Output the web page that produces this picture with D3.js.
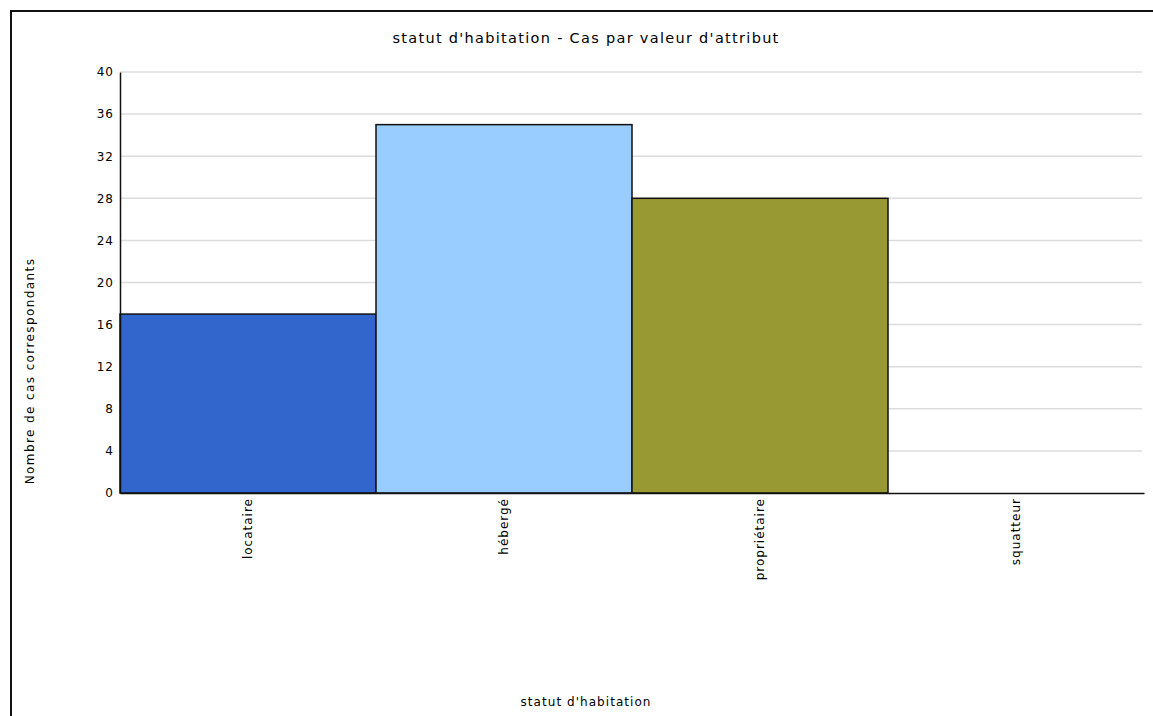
<!DOCTYPE html>
<html><head><meta charset="utf-8">
<script src="https://cdn.jsdelivr.net/npm/d3@7"></script>
<style>body{margin:0;background:#fff}svg{display:block}text{font-family:"DejaVu Sans",Verdana,sans-serif;fill:#000}</style>
</head><body><svg id="c" width="1153" height="716"></svg>
<script>
const categories = ["locataire", "hébergé", "propriétaire", "squatteur"];
const values = [17, 35, 28, 0];
const colors = ["#3366CC", "#99CCFF", "#999933", "#CC9933"];
const yTicks = [0, 4, 8, 12, 16, 20, 24, 28, 32, 36, 40];
const title = "statut d'habitation - Cas par valeur d'attribut";
const xTitle = "statut d'habitation";
const yTitle = "Nombre de cas correspondants";

const svg = d3.select("#c");
const L = 120, R = 1144, T = 72, B = 493;
const x = d3.scaleBand().domain(categories).range([L, R]).padding(0);
const y = d3.scaleLinear().domain([0, 40]).range([B, T]);
const FF = "'DejaVu Sans', Verdana, sans-serif";

// frame
svg.append("path").attr("d", `M11,716 V11 H1153`).attr("fill", "none").attr("stroke", "#111").attr("stroke-width", 2);

// grid
svg.append("g").selectAll("line").data(yTicks.filter(d => d > 0)).join("line")
  .attr("x1", L).attr("x2", R - 2).attr("y1", d => y(d)).attr("y2", d => y(d))
  .attr("stroke", "#dcdcdc").attr("stroke-width", 1.5);

// bars
svg.append("g").selectAll("rect").data(categories).join("rect")
  .attr("x", d => x(d)).attr("width", x.bandwidth())
  .attr("y", (d, i) => y(values[i])).attr("height", (d, i) => B - y(values[i]))
  .attr("fill", (d, i) => colors[i]).attr("stroke", "#111").attr("stroke-width", 1.5)
  .style("display", (d, i) => values[i] > 0 ? null : "none");

// y axis
const ya = svg.append("g").attr("transform", `translate(${L},0)`)
  .call(d3.axisLeft(y).tickValues(yTicks).tickSize(0).tickPadding(6));
ya.select(".domain").attr("stroke", "#111").attr("stroke-width", 1.5);
ya.selectAll("text").attr("font-size", 12).attr("fill", "#000").style("font-family", FF)
  .style("letter-spacing", "1px");

// x axis
const xa = svg.append("g").attr("transform", `translate(0,${B})`)
  .call(d3.axisBottom(x).tickSize(0).tickPadding(0));
xa.select(".domain").attr("stroke", "#111").attr("stroke-width", 1.5);
xa.selectAll("text").attr("font-size", 12).attr("fill", "#000")
  .style("font-family", FF).style("letter-spacing", "1px")
  .attr("transform", "rotate(-90)").attr("text-anchor", "end")
  .attr("x", -5).attr("y", 0).attr("dy", "0.35em");

// titles
svg.append("text").attr("x", 586).attr("y", 43).attr("text-anchor", "middle").attr("font-size", 14.5)
  .style("letter-spacing", "1.3px").text(title);
svg.append("text").attr("x", 586).attr("y", 706).attr("text-anchor", "middle").attr("font-size", 12)
  .style("letter-spacing", "1.05px").text(xTitle);
svg.append("text").attr("transform", "translate(34,371) rotate(-90)").attr("text-anchor", "middle").attr("font-size", 12)
  .style("letter-spacing", "1.4px").text(yTitle);
</script></body></html>
